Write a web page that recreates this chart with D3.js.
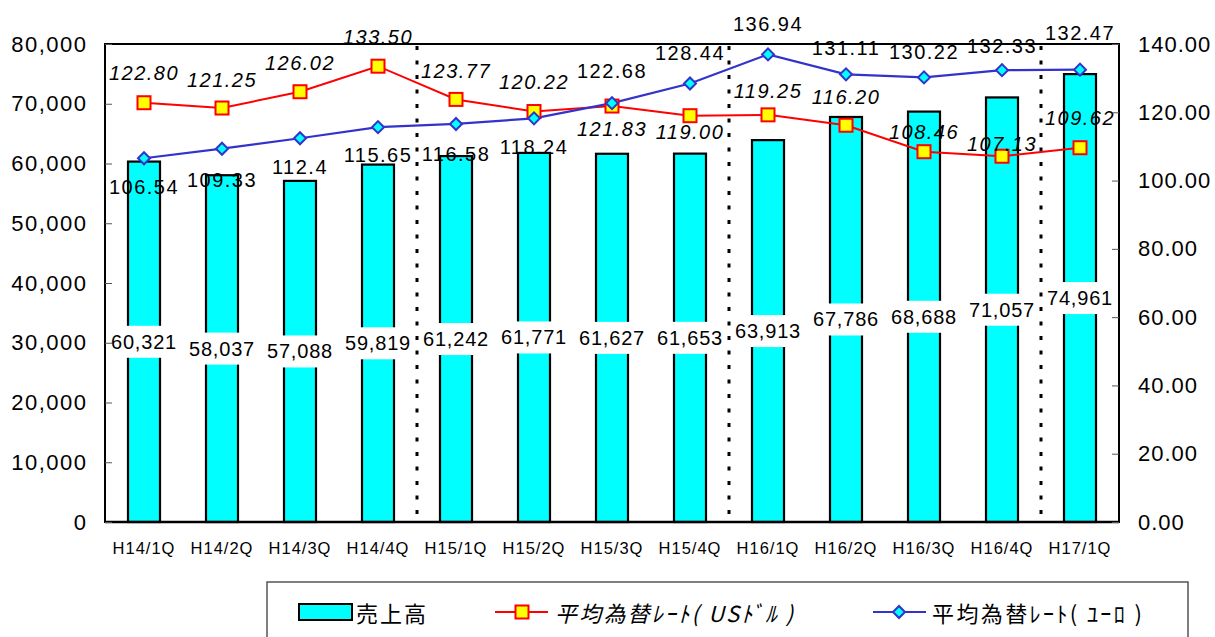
<!DOCTYPE html>
<html><head><meta charset="utf-8">
<script src="https://cdn.jsdelivr.net/npm/d3@7"></script>
<style>
html,body{margin:0;padding:0;background:#fff;}
svg{display:block;}
.num{font-family:"Liberation Sans",Arial,sans-serif;}
.jp{font-family:"Noto Sans CJK JP","Noto Sans",sans-serif;}
</style></head>
<body>
<svg id="chart" width="1215" height="637"></svg>
<script>
// ---- data ----
const categories = ["H14/1Q","H14/2Q","H14/3Q","H14/4Q","H15/1Q","H15/2Q","H15/3Q","H15/4Q","H16/1Q","H16/2Q","H16/3Q","H16/4Q","H17/1Q"];
const sales   = [60321,58037,57088,59819,61242,61771,61627,61653,63913,67786,68688,71057,74961];
const usdRate = [122.80,121.25,126.02,133.50,123.77,120.22,121.83,119.00,119.25,116.20,108.46,107.13,109.62];
const eurRate = [106.54,109.33,112.4,115.65,116.58,118.24,122.68,128.44,136.94,131.11,130.22,132.33,132.47];
const leftTicks  = [0,10000,20000,30000,40000,50000,60000,70000,80000];
const rightTicks = [0,20,40,60,80,100,120,140];
const yearStarts = ["H15/1Q","H16/1Q","H17/1Q"];
const seriesNames = ["売上高","平均為替ﾚｰﾄ( USﾄﾞﾙ )","平均為替ﾚｰﾄ( ﾕｰﾛ )"];

// label placement tweaks (layout only, px offset of label centre from point)
const usdLabelDy = [-30,-28,-29,-29,-28,-30,23,16,-24,-28,-20,-12,-30];
const eurLabelDy = [29,31,29,28,30,29,-32,-30,-30,-26,-25,-24,-37];

// ---- layout ----
const X0=105, X1=1119, Y0=44, Y1=522;
const svg = d3.select("#chart");
const x = d3.scaleBand().domain(categories).range([X0,X1]).padding(0);
const yL = d3.scaleLinear().domain([0,80000]).range([Y1,Y0]);
const yR = d3.scaleLinear().domain([0,140]).range([Y1,Y0]);
const cx = c => x(c) + x.bandwidth()/2;
const barW = 32;

// bars
svg.append("g").selectAll("rect").data(categories).join("rect")
  .attr("x", c => cx(c) - barW/2)
  .attr("y", (c,i) => yL(sales[i]))
  .attr("width", barW)
  .attr("height", (c,i) => yL(0) - yL(sales[i]))
  .attr("fill","#00FFFF").attr("stroke","#000").attr("stroke-width",2.2);

// bar labels (centre of bar) with white backing
const fmtInt = d3.format(",");
const bl = svg.append("g").attr("class","num");
categories.forEach((c,i)=>{
  const g = bl.append("g");
  const t = g.append("text")
    .attr("x", cx(c)).attr("y", yL(sales[i]/2))
    .attr("text-anchor","middle").attr("dominant-baseline","central")
    .attr("font-size",20).attr("letter-spacing",0.8).attr("fill","#000")
    .text(fmtInt(sales[i]));
  const bb = t.node().getBBox();
  g.insert("rect","text").attr("x",bb.x-2).attr("y",yL(sales[i]/2)-16)
    .attr("width",bb.width+4).attr("height",32).attr("fill","#fff");
});

// dotted year dividers
svg.append("g").selectAll("line").data(yearStarts).join("line")
  .attr("x1", c => x(c)).attr("x2", c => x(c))
  .attr("y1", Y0+2).attr("y2", Y1-4)
  .attr("stroke","#000").attr("stroke-width",3).attr("stroke-dasharray","4,10.5");

// lines
const lineGen = d3.line().x((d,i)=>cx(categories[i])).y(d=>yR(d));
svg.append("path").datum(usdRate).attr("d",lineGen)
  .attr("fill","none").attr("stroke","#FF0000").attr("stroke-width",2);
svg.append("path").datum(eurRate).attr("d",lineGen)
  .attr("fill","none").attr("stroke","#3333CC").attr("stroke-width",2.2);

// markers
svg.append("g").selectAll("rect").data(usdRate).join("rect")
  .attr("x",(d,i)=>cx(categories[i])-6.5).attr("y",d=>yR(d)-6.5)
  .attr("width",13).attr("height",13)
  .attr("fill","#FFFF00").attr("stroke","#FF0000").attr("stroke-width",2);
svg.append("g").selectAll("path").data(eurRate).join("path")
  .attr("transform",(d,i)=>`translate(${cx(categories[i])},${yR(d)}) rotate(45)`)
  .attr("d", d3.symbol().type(d3.symbolSquare).size(72)())
  .attr("fill","#00FFFF").attr("stroke","#3333CC").attr("stroke-width",2);

// line labels
svg.append("g").attr("class","num").selectAll("text").data(usdRate).join("text")
  .attr("x",(d,i)=>cx(categories[i])).attr("y",(d,i)=>yR(d)+usdLabelDy[i])
  .attr("text-anchor","middle").attr("dominant-baseline","central")
  .attr("font-size",20).attr("font-style","italic").attr("letter-spacing",1.5)
  .text(d=>d.toFixed(2));
svg.append("g").attr("class","num").selectAll("text").data(eurRate).join("text")
  .attr("x",(d,i)=>cx(categories[i])).attr("y",(d,i)=>yR(d)+eurLabelDy[i])
  .attr("text-anchor","middle").attr("dominant-baseline","central")
  .attr("font-size",20).attr("letter-spacing",1.5)
  .text(d=>String(d));

// frame
svg.append("rect").attr("x",X0).attr("y",Y0).attr("width",X1-X0).attr("height",Y1-Y0)
  .attr("fill","none").attr("stroke","#000").attr("stroke-width",2);
svg.append("line").attr("x1",X0).attr("x2",X1).attr("y1",Y1).attr("y2",Y1)
  .attr("stroke","#000").attr("stroke-width",2.5);

// axes
const axL = d3.axisLeft(yL).tickValues(leftTicks).tickFormat(fmtInt).tickSizeInner(-7).tickSizeOuter(0).tickPadding(17.5);
const gL = svg.append("g").attr("transform",`translate(${X0},0)`).call(axL);
gL.select(".domain").remove();
gL.selectAll(".tick line").attr("stroke","#555");
gL.selectAll("text").attr("font-family","Liberation Sans, Arial, sans-serif")
  .attr("font-size",22).attr("letter-spacing",1.5).attr("fill","#000");

const axR = d3.axisRight(yR).tickValues(rightTicks).tickFormat(d=>d.toFixed(2)).tickSizeInner(-7).tickSizeOuter(0).tickPadding(19);
const gR = svg.append("g").attr("transform",`translate(${X1},0)`).call(axR);
gR.select(".domain").remove();
gR.selectAll(".tick line").attr("stroke","#555");
gR.selectAll("text").attr("font-family","Liberation Sans, Arial, sans-serif")
  .attr("font-size",22).attr("letter-spacing",1).attr("fill","#000");

const axB = d3.axisBottom(x).tickSize(0).tickPadding(20);
const gB = svg.append("g").attr("transform",`translate(0,${Y1})`).call(axB);
gB.select(".domain").remove();
gB.selectAll("text").attr("font-family","Liberation Sans, Arial, sans-serif")
  .attr("font-size",16.5).attr("letter-spacing",1).attr("fill","#000");

// legend
const lg = svg.append("g");
lg.append("rect").attr("x",267).attr("y",582).attr("width",921).attr("height",70)
  .attr("fill","#fff").attr("stroke","#555").attr("stroke-width",1.5);
const ly = 612;
lg.append("rect").attr("x",299).attr("y",604).attr("width",53).attr("height",16)
  .attr("fill","#00FFFF").attr("stroke","#000").attr("stroke-width",2);
lg.append("text").attr("class","jp").attr("x",356).attr("y",ly).attr("dominant-baseline","central")
  .attr("font-size",22).attr("letter-spacing",2).text(seriesNames[0]);
lg.append("line").attr("x1",495).attr("x2",548).attr("y1",ly).attr("y2",ly)
  .attr("stroke","#FF0000").attr("stroke-width",2);
lg.append("rect").attr("x",522-6.5).attr("y",ly-6.5).attr("width",13).attr("height",13)
  .attr("fill","#FFFF00").attr("stroke","#FF0000").attr("stroke-width",2);
lg.append("text").attr("class","jp").attr("x",555).attr("y",ly).attr("dominant-baseline","central")
  .attr("font-size",22).attr("font-style","italic").attr("letter-spacing",2.2).text(seriesNames[1]);
lg.append("line").attr("x1",873).attr("x2",926).attr("y1",ly).attr("y2",ly)
  .attr("stroke","#3333CC").attr("stroke-width",2);
lg.append("path").attr("transform",`translate(899,${ly}) rotate(45)`)
  .attr("d", d3.symbol().type(d3.symbolSquare).size(72)())
  .attr("fill","#00FFFF").attr("stroke","#3333CC").attr("stroke-width",2);
lg.append("text").attr("class","jp").attr("x",932).attr("y",ly).attr("dominant-baseline","central")
  .attr("font-size",22).attr("letter-spacing",2.4).text(seriesNames[2]);
</script>
</body></html>
